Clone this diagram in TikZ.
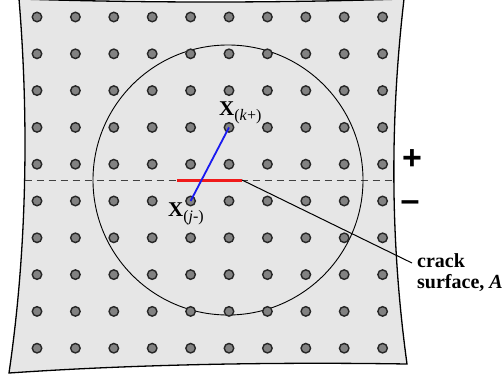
\documentclass[tikz,border=0pt]{standalone}
\usepackage{fontspec}
\setmainfont{Liberation Serif}
\newfontfamily\signfont{Liberation Sans}
\usetikzlibrary{calc}
\definecolor{sheetgray}{HTML}{E6E6E6}
\definecolor{atomgray}{HTML}{828282}
\definecolor{bondblue}{HTML}{1A1AF0}
\definecolor{crackred}{HTML}{F01A1A}

\begin{document}
\begin{tikzpicture}[x=1pt,y=-1pt,
  atom/.style={circle,draw=black!85,fill=atomgray,line width=1.4pt,minimum size=9.5pt,inner sep=0pt},
  tag/.style={font=\fontsize{21}{21}\selectfont\bfseries,inner sep=0pt},
  sign/.style={font=\signfont\fontsize{34}{34}\selectfont\bfseries,inner sep=0pt}]
  \useasboundingbox (0,0) rectangle (503,381);

  % Sheet
  \draw[fill=sheetgray,line width=1.3pt] (19,-1) .. controls (150,3) and (270,3) .. (404,-1)
    .. controls (390,120) and (390,240) .. (407,364)
    .. controls (280,362) and (140,364) .. (9,373)
    .. controls (27,250) and (29,120) .. cycle;

  % Crack plane
  \coordinate (cut-l) at (24.5,180);
  \coordinate (cut-r) at (393,180);
  \draw[black!75,line width=0.9pt,dash pattern=on 7pt off 5pt] (cut-l) -- (cut-r);

  % Horizon
  \node[circle,draw,line width=0.9pt,minimum size=270pt,inner sep=0pt] (horizon) at (228,180) {};

  % Atoms
  \foreach \i in {0,...,9}
    \foreach \j in {0,...,9}
      \node[atom] (d-\i-\j) at ({37+38.4*\i},{17+36.8*\j}) {};

  % Crack surface and bond
  \coordinate (crack-l) at (177,180);
  \coordinate (crack-r) at (242,180);
  \draw[crackred,line width=3pt] (crack-l) -- (crack-r);
  \draw[bondblue,line width=1.8pt] (d-4-5.center) -- (d-5-3.center);

  % Labels
  \node[tag,anchor=base west] (tag-k) at (219,115) {X\raisebox{-5pt}{\fontsize{16}{16}\selectfont\mdseries(\textit{k}+)}};
  \node[tag,anchor=base west] (tag-j) at (168,216) {X\raisebox{-5pt}{\fontsize{16}{16}\selectfont\mdseries(\textit{j}-)}};
  \node[sign] (plus) at (412,160) {+};
  \node[sign] (minus) at (410,206) {–};

  \node[font=\fontsize{20}{20}\selectfont\bfseries,inner sep=0pt,anchor=base west] (crack1) at (417,267) {crack};
  \node[font=\fontsize{20}{20}\selectfont\bfseries,inner sep=0pt,anchor=base west] (crack2) at (417,288) {surface, \textit{A}};
  \coordinate (lead) at (412,263);
  \draw[line width=1pt] (crack-r) -- (lead);
\end{tikzpicture}
\end{document}
